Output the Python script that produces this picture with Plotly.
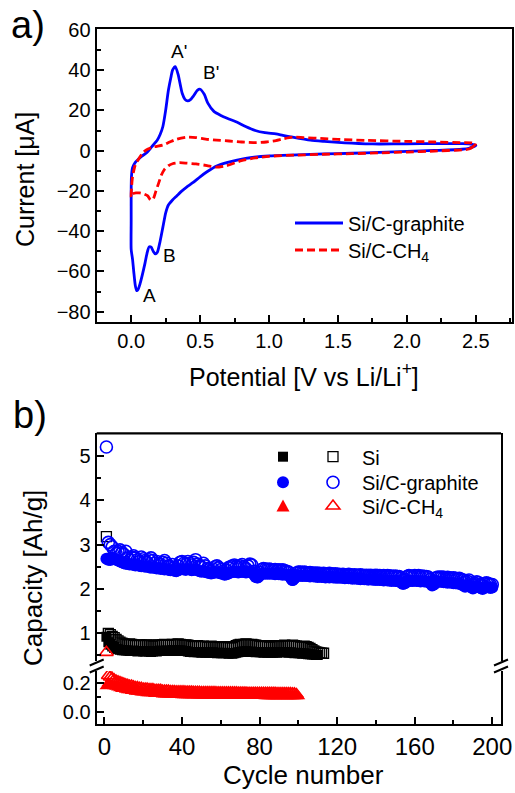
import plotly.graph_objects as go

# ---------------- data: panel a) cyclic voltammetry ----------------
cv_graphite_v = [2.50, 2.45, 2.40, 2.20, 2.00, 1.80, 1.60, 1.40, 1.20, 1.00, 0.83, 0.70, 0.62, 0.55, 0.50,
                 0.45, 0.40, 0.36, 0.33, 0.30, 0.27, 0.25, 0.23, 0.21, 0.19, 0.175, 0.16, 0.145, 0.13, 0.115,
                 0.10, 0.08, 0.065, 0.05, 0.04, 0.03, 0.02, 0.01, 0.0, 0.0, 0.0, 0.002, 0.01, 0.03, 0.05,
                 0.08, 0.11, 0.15, 0.19, 0.21, 0.23, 0.25, 0.27, 0.29, 0.30, 0.32, 0.34, 0.37, 0.39, 0.41,
                 0.43, 0.45, 0.48, 0.50, 0.53, 0.556, 0.60, 0.65, 0.70, 0.76, 0.83, 0.90, 0.97, 1.05, 1.10,
                 1.17, 1.30, 1.40, 1.50, 1.60, 1.70, 1.80, 2.00, 2.20, 2.40, 2.45, 2.48, 2.50]
cv_graphite_i = [2.6, 1.2, 0.7, 0.1, -0.4, -0.9, -1.3, -1.6, -2.1, -2.6, -3.8, -5.8, -7.6, -10.5, -13.0,
                 -15.8, -18.2, -20.5, -22.5, -24.5, -27.0, -31.0, -38.0, -45.0, -50.5, -51.3, -50.0, -48.0, -47.8, -51.0,
                 -56.0, -62.0, -66.0, -69.0, -69.6, -67.0, -61.0, -54.0, -49.0, -35.0, -20.0, -13.0, -8.5, -5.8, -4.4,
                 -2.6, -1.2, 2.0, 5.3, 8.0, 12.0, 20.0, 30.0, 37.0, 40.0, 41.8, 38.0, 28.5, 25.5, 24.7,
                 25.3, 27.0, 30.0, 30.5, 28.0, 23.6, 19.5, 17.5, 16.0, 14.4, 12.0, 10.0, 8.9, 8.3, 7.6,
                 6.7, 5.2, 4.6, 4.1, 3.7, 3.4, 3.3, 3.4, 3.5, 3.5, 3.4, 3.0, 2.6]

cv_ch4_v = [2.50, 2.48, 2.45, 2.40, 2.20, 2.00, 1.80, 1.60, 1.40, 1.20, 1.00, 0.90, 0.80, 0.69, 0.616,
            0.55, 0.47, 0.40, 0.35, 0.30, 0.27, 0.24, 0.22, 0.20, 0.18, 0.16, 0.14, 0.12, 0.09, 0.06,
            0.035, 0.01, 0.0, 0.003, 0.01, 0.03, 0.05, 0.08, 0.11, 0.16, 0.23, 0.28, 0.33, 0.40, 0.47,
            0.54, 0.62, 0.71, 0.80, 0.906, 0.98, 1.05, 1.10, 1.17, 1.25, 1.40, 1.50, 1.70, 2.00, 2.20,
            2.40, 2.47, 2.50]
cv_ch4_i = [3.5, 2.0, 0.8, 0.4, -0.2, -0.7, -1.1, -1.5, -1.8, -2.2, -2.8, -3.6, -5.0, -7.5, -8.2,
            -7.4, -6.6, -6.2, -6.0, -6.5, -7.5, -9.5, -12.0, -16.0, -20.0, -24.0, -24.5, -22.5, -21.5, -21.0,
            -21.0, -21.5, -23.0, -18.0, -13.0, -7.0, -4.6, -1.5, 0.4, 1.8, 2.8, 4.3, 5.7, 6.7, 6.5,
            5.7, 5.2, 4.8, 4.3, 4.0, 4.3, 5.0, 5.8, 6.7, 6.5, 6.0, 5.6, 5.1, 4.6, 4.3,
            4.0, 3.9, 3.5]

cv_labels = ["A'", "B'", "A", "B"]
cv_label_v = [0.348, 0.577, 0.133, 0.28]
cv_label_i = [49.2, 38.9, -72.1, -51.9]

# ---------------- data: panel b) cycling ----------------
si_open = [3.18, 1.00, 0.97, 0.93, 0.90, 0.86, 0.83, 0.80, 0.78, 0.76,
           0.75, 0.74, 0.76, 0.75, 0.73, 0.72, 0.73, 0.74, 0.73, 0.72,
           0.73, 0.74, 0.73, 0.72, 0.71, 0.72, 0.73, 0.74, 0.73, 0.74,
           0.75, 0.74, 0.73, 0.74, 0.75, 0.74, 0.75, 0.76, 0.75, 0.74,
           0.73, 0.74, 0.73, 0.72, 0.71, 0.70, 0.71, 0.72, 0.71, 0.70,
           0.71, 0.70, 0.69, 0.70, 0.71, 0.70, 0.69, 0.70, 0.69, 0.68,
           0.69, 0.70, 0.69, 0.68, 0.67, 0.68, 0.70, 0.72, 0.74, 0.75,
           0.74, 0.75, 0.76, 0.75, 0.74, 0.75, 0.74, 0.73, 0.72, 0.71,
           0.70, 0.71, 0.72, 0.70, 0.69, 0.70, 0.71, 0.72, 0.71, 0.70,
           0.71, 0.72, 0.73, 0.72, 0.71, 0.72, 0.73, 0.72, 0.71, 0.70,
           0.69, 0.70, 0.71, 0.70, 0.68, 0.66, 0.63, 0.60, 0.58, 0.57,
           0.56, 0.55, 0.55]
si_filled = [0.92, 0.80, 0.74, 0.70, 0.67, 0.65, 0.64, 0.63, 0.62, 0.62,
             0.61, 0.61, 0.60, 0.60, 0.61, 0.60, 0.59, 0.60, 0.60, 0.59,
             0.59, 0.60, 0.59, 0.58, 0.59, 0.60, 0.59, 0.60, 0.61, 0.60,
             0.60, 0.61, 0.60, 0.61, 0.62, 0.61, 0.60, 0.61, 0.62, 0.61,
             0.60, 0.60, 0.59, 0.58, 0.58, 0.57, 0.58, 0.57, 0.57, 0.56,
             0.57, 0.56, 0.57, 0.56, 0.56, 0.57, 0.56, 0.55, 0.56, 0.55,
             0.55, 0.56, 0.55, 0.54, 0.55, 0.54, 0.55, 0.56, 0.57, 0.58,
             0.59, 0.59, 0.60, 0.59, 0.58, 0.59, 0.58, 0.57, 0.58, 0.57,
             0.57, 0.56, 0.57, 0.56, 0.57, 0.56, 0.56, 0.57, 0.56, 0.57,
             0.58, 0.57, 0.58, 0.57, 0.56, 0.57, 0.56, 0.55, 0.56, 0.55,
             0.55, 0.54, 0.55, 0.54, 0.53, 0.53, 0.52, 0.52, 0.51, 0.51]

gr_open = [5.20, 3.05, 3.00, 2.95, 2.85, 2.80, 2.85, 2.88, 2.82, 2.78,
           2.85, 2.70, 2.65, 2.72, 2.75, 2.70, 2.66, 2.62, 2.72, 2.68,
           2.64, 2.60, 2.66, 2.70, 2.64, 2.58, 2.62, 2.56, 2.55, 2.60,
           2.64, 2.58, 2.52, 2.50, 2.55, 2.48, 2.44, 2.52, 2.60, 2.62,
           2.58, 2.55, 2.62, 2.58, 2.54, 2.60, 2.66, 2.56, 2.52, 2.50,
           2.58, 2.52, 2.46, 2.44, 2.40, 2.45, 2.50, 2.52, 2.48, 2.44,
           2.40, 2.35, 2.42, 2.48, 2.50, 2.52, 2.54, 2.50, 2.48, 2.52,
           2.55, 2.50, 2.46, 2.52, 2.56, 2.54, 2.40, 2.30, 2.28, 2.38,
           2.44, 2.46, 2.45, 2.44, 2.45, 2.44, 2.43, 2.44, 2.42, 2.43,
           2.42, 2.43, 2.41, 2.40, 2.38, 2.30, 2.22, 2.30, 2.36, 2.38,
           2.38, 2.37, 2.38, 2.37, 2.36, 2.37, 2.36, 2.35, 2.36, 2.35,
           2.35, 2.34, 2.35, 2.34, 2.34, 2.35, 2.34, 2.33, 2.34, 2.33,
           2.33, 2.32, 2.33, 2.32, 2.32, 2.33, 2.32, 2.31, 2.32, 2.31,
           2.31, 2.32, 2.31, 2.30, 2.31, 2.30, 2.31, 2.30, 2.30, 2.31,
           2.30, 2.30, 2.29, 2.30, 2.29, 2.30, 2.29, 2.29, 2.28, 2.29,
           2.28, 2.28, 2.24, 2.20, 2.22, 2.28, 2.30, 2.29, 2.28, 2.30,
           2.29, 2.30, 2.28, 2.29, 2.28, 2.28, 2.27, 2.22, 2.15, 2.18,
           2.25, 2.27, 2.26, 2.27, 2.26, 2.25, 2.26, 2.25, 2.24, 2.25,
           2.24, 2.23, 2.24, 2.22, 2.20, 2.16, 2.18, 2.20, 2.14, 2.10,
           2.12, 2.16, 2.14, 2.10, 2.08, 2.12, 2.14, 2.12, 2.10, 2.10]
gr_filled = [2.68, 2.66, 2.65, 2.70, 2.68, 2.66, 2.64, 2.62, 2.60, 2.58,
             2.57, 2.56, 2.55, 2.56, 2.54, 2.53, 2.54, 2.52, 2.51, 2.52,
             2.50, 2.51, 2.49, 2.48, 2.49, 2.47, 2.46, 2.47, 2.45, 2.46,
             2.44, 2.45, 2.43, 2.42, 2.43, 2.41, 2.40, 2.42, 2.44, 2.45,
             2.44, 2.43, 2.45, 2.44, 2.42, 2.43, 2.44, 2.42, 2.40, 2.39,
             2.40, 2.38, 2.37, 2.36, 2.35, 2.36, 2.37, 2.38, 2.36, 2.35,
             2.34, 2.32, 2.33, 2.35, 2.37, 2.38, 2.39, 2.38, 2.37, 2.38,
             2.39, 2.38, 2.37, 2.38, 2.39, 2.38, 2.33, 2.27, 2.26, 2.30,
             2.34, 2.35, 2.34, 2.35, 2.34, 2.35, 2.34, 2.33, 2.34, 2.33,
             2.33, 2.32, 2.33, 2.32, 2.31, 2.26, 2.20, 2.24, 2.29, 2.30,
             2.30, 2.29, 2.30, 2.29, 2.29, 2.28, 2.29, 2.28, 2.28, 2.27,
             2.28, 2.27, 2.27, 2.26, 2.27, 2.26, 2.27, 2.26, 2.26, 2.25,
             2.26, 2.25, 2.25, 2.24, 2.25, 2.24, 2.24, 2.23, 2.24, 2.23,
             2.23, 2.22, 2.23, 2.22, 2.22, 2.21, 2.22, 2.21, 2.21, 2.20,
             2.21, 2.20, 2.20, 2.19, 2.20, 2.19, 2.19, 2.18, 2.19, 2.18,
             2.18, 2.17, 2.14, 2.11, 2.13, 2.17, 2.19, 2.18, 2.18, 2.19,
             2.18, 2.18, 2.17, 2.18, 2.17, 2.17, 2.16, 2.13, 2.08, 2.10,
             2.15, 2.17, 2.16, 2.16, 2.15, 2.15, 2.14, 2.15, 2.14, 2.13,
             2.13, 2.12, 2.12, 2.10, 2.08, 2.05, 2.07, 2.09, 2.04, 2.01,
             2.03, 2.06, 2.04, 2.02, 2.00, 2.03, 2.05, 2.04, 2.02, 2.03]

ch4_filled = [0.18, 0.20, 0.19, 0.185, 0.18, 0.175, 0.17, 0.165, 0.16, 0.16,
              0.155, 0.15, 0.15, 0.145, 0.145, 0.14, 0.14, 0.14, 0.135, 0.135,
              0.135, 0.13, 0.13, 0.13, 0.13, 0.125, 0.125, 0.125, 0.125, 0.12,
              0.12, 0.12, 0.12, 0.12, 0.12, 0.118, 0.118, 0.118, 0.118, 0.116,
              0.116, 0.116, 0.116, 0.115, 0.115, 0.115, 0.115, 0.114, 0.114, 0.114,
              0.114, 0.114, 0.113, 0.113, 0.113, 0.113, 0.113, 0.112, 0.112, 0.112,
              0.112, 0.112, 0.112, 0.111, 0.111, 0.111, 0.111, 0.111, 0.111, 0.111,
              0.11, 0.11, 0.11, 0.11, 0.11, 0.11, 0.11, 0.11, 0.11, 0.11,
              0.11, 0.11, 0.109, 0.109, 0.109, 0.109, 0.109, 0.109, 0.109, 0.109,
              0.108, 0.108, 0.108, 0.108, 0.108, 0.108, 0.108, 0.108, 0.108, 0.108]
ch4_open_first = 0.57  # cycle 1, drawn on the upper axis segment
ch4_open = [0.255, 0.245, 0.235, 0.225, 0.215, 0.21, 0.205, 0.20, 0.195,
            0.19, 0.185, 0.18, 0.18, 0.175, 0.17, 0.17, 0.165, 0.165, 0.16,
            0.16, 0.16, 0.155, 0.155, 0.155, 0.15, 0.15, 0.15, 0.15, 0.145,
            0.145, 0.145, 0.145, 0.142, 0.142, 0.142, 0.14, 0.14, 0.14, 0.14,
            0.14, 0.138, 0.138, 0.138, 0.138, 0.136, 0.136, 0.136, 0.136, 0.135,
            0.135, 0.135, 0.135, 0.134, 0.134, 0.134, 0.134, 0.133, 0.133, 0.133,
            0.133, 0.133, 0.132, 0.132, 0.132, 0.132, 0.132, 0.132, 0.131, 0.131,
            0.131, 0.131, 0.131, 0.13, 0.13, 0.13, 0.13, 0.13, 0.13, 0.13,
            0.13, 0.13, 0.13, 0.129, 0.129, 0.129, 0.129, 0.129, 0.128, 0.128,
            0.128, 0.128, 0.128, 0.127, 0.127, 0.127, 0.126, 0.125, 0.12]

# ---------------- layout helpers ----------------
W, H = 515, 793
def fx(p):
    return p / W
def fy(p):
    return 1 - p / H

FONT = "Liberation Sans, Arial, sans-serif"
BLUE = "#0000FF"
RED = "#FF0000"

fig = go.Figure()

# panel a
fig.add_trace(go.Scatter(x=cv_graphite_v, y=cv_graphite_i, mode="lines", name="Si/C-graphite",
                         line=dict(color=BLUE, width=2.8, shape="spline", smoothing=0.6),
                         xaxis="x", yaxis="y", legend="legend"))
fig.add_trace(go.Scatter(x=cv_ch4_v, y=cv_ch4_i, mode="lines", name="Si/C-CH<sub>4</sub>",
                         line=dict(color=RED, width=2.8, dash="8px,4px", shape="spline", smoothing=0.6),
                         xaxis="x", yaxis="y", legend="legend2"))

# panel b
cyc_si_f = list(range(1, len(si_filled) + 1))
cyc_si_o = list(range(1, len(si_open) + 1))
cyc_gr = list(range(1, len(gr_open) + 1))
cyc_ch4_f = list(range(1, len(ch4_filled) + 1))
cyc_ch4_o = list(range(2, len(ch4_open) + 2))

MS = 11
fig.add_trace(go.Scatter(x=cyc_si_f, y=si_filled, mode="markers", name="Si (filled)", showlegend=False,
                         marker=dict(symbol="square", size=MS - 1, color="black"),
                         xaxis="x2", yaxis="y3"))
fig.add_trace(go.Scatter(x=cyc_si_o, y=si_open, mode="markers", name="Si",
                         marker=dict(symbol="square-open", size=MS - 1, color="black", line=dict(width=1.3)),
                         xaxis="x2", yaxis="y3", legend="legend3"))
fig.add_trace(go.Scatter(x=cyc_gr, y=gr_filled, mode="markers", name="Si/C-graphite (filled)", showlegend=False,
                         marker=dict(symbol="circle", size=MS + 1, color=BLUE),
                         xaxis="x2", yaxis="y3"))
fig.add_trace(go.Scatter(x=cyc_gr, y=gr_open, mode="markers", name="Si/C-graphite",
                         marker=dict(symbol="circle-open", size=MS + 1, color=BLUE, line=dict(width=1.6)),
                         xaxis="x2", yaxis="y3", legend="legend4"))
fig.add_trace(go.Scatter(x=cyc_ch4_f, y=ch4_filled, mode="markers", name="Si/C-CH4 (filled)", showlegend=False,
                         marker=dict(symbol="triangle-up", size=MS + 1, color=RED),
                         xaxis="x2", yaxis="y2"))
fig.add_trace(go.Scatter(x=cyc_ch4_o, y=ch4_open, mode="markers", name="Si/C-CH<sub>4</sub>",
                         marker=dict(symbol="triangle-up-open", size=MS + 1, color=RED, line=dict(width=1.6)),
                         xaxis="x2", yaxis="y2", legend="legend5"))
fig.add_trace(go.Scatter(x=[1], y=[ch4_open_first], mode="markers", showlegend=False,
                         marker=dict(symbol="triangle-up-open", size=MS + 1, color=RED, line=dict(width=1.6)),
                         xaxis="x2", yaxis="y3"))

tickfont = dict(family=FONT, size=20, color="black")
def minor(dt):
    return dict(ticks="inside", ticklen=4, tickwidth=2, tickcolor="black", dtick=dt, tick0=0, showgrid=False)
def axis(**kw):
    base = dict(showline=True, linewidth=2.2, linecolor="black", mirror=True,
                ticks="inside", ticklen=7, tickwidth=2, tickcolor="black",
                showgrid=False, zeroline=False, tickfont=tickfont, automargin=False)
    base.update(kw)
    return base

# domains (pixel-based)
A_L, A_R, A_T, A_B = 96.7, 511.7, 29.3, 321.7
B_L, B_R, B_T, B_B = 96.7, 501.0, 433.3, 724.3
BRK_UP, BRK_LO = 661.0, 671.0
LEG_ROWS_B = [456.7, 482.3, 506.0]
LEG_FILLED_X = 283.0

def leg(xp, yp, iw=30):
    return dict(x=fx(xp), y=fy(yp), xanchor="left", yanchor="middle", itemwidth=iw,
                bgcolor="rgba(0,0,0,0)", borderwidth=0,
                font=dict(family=FONT, size=20, color="black"))

fig.update_layout(
    width=W, height=H, autosize=False,
    margin=dict(l=0, r=0, t=0, b=0, pad=0),
    paper_bgcolor="white", plot_bgcolor="white",
    font=dict(family=FONT, color="black"),
    xaxis=axis(domain=[fx(A_L), fx(A_R)], anchor="y", range=[-0.25, 2.76],
               tick0=0, dtick=0.5, tickformat=".1f", minor=minor(0.25)),
    yaxis=axis(domain=[fy(A_B), fy(A_T)], anchor="x", range=[-85, 60.3],
               tick0=0, dtick=20, minor=minor(10)),
    xaxis2=axis(domain=[fx(B_L), fx(B_R)], anchor="y2", range=[-4, 204.5], mirror=False,
                tick0=0, dtick=40, tickfont=dict(family=FONT, size=24, color="black"), minor=minor(20)),
    yaxis2=axis(domain=[fy(B_B), fy(BRK_LO)], anchor="x2", range=[-0.09, 0.287],
                tick0=0, dtick=0.2, tickformat=".1f", minor=minor(0.1)),
    yaxis3=axis(domain=[fy(BRK_UP), fy(B_T)], anchor="x2", range=[0.375, 5.51],
                tick0=0, dtick=1, minor=minor(0.5)),
    legend=leg(290, 223, 48),
    legend2=leg(290, 250, 48),
    legend3=leg(304, LEG_ROWS_B[0], 48),
    legend4=leg(304, LEG_ROWS_B[1], 48),
    legend5=leg(304, LEG_ROWS_B[2], 48),
)

annotations = []
for t, xv, yv in zip(cv_labels, cv_label_v, cv_label_i):
    annotations.append(dict(text=t, x=xv, y=yv, xref="x", yref="y", showarrow=False,
                            xanchor="center", yanchor="middle",
                            font=dict(family=FONT, size=19, color="black")))
annotations += [
    dict(text="a)", x=fx(9), y=fy(25), xref="paper", yref="paper", xanchor="left", yanchor="middle",
         showarrow=False, font=dict(family=FONT, size=38, color="black")),
    dict(text="b)", x=fx(11), y=fy(415), xref="paper", yref="paper", xanchor="left", yanchor="middle",
         showarrow=False, font=dict(family=FONT, size=38, color="black")),
    dict(text="Current [μA]", x=fx(25), y=fy(180), xref="paper", yref="paper", textangle=-90,
         xanchor="center", yanchor="middle",
         showarrow=False, font=dict(family=FONT, size=25, color="black")),
    dict(text="Potential [V vs Li/Li<sup>+</sup>]", x=fx(304), y=fy(375), xref="paper", yref="paper",
         xanchor="center", yanchor="middle",
         showarrow=False, font=dict(family=FONT, size=25, color="black")),
    dict(text="Capacity [Ah/g]", x=fx(33), y=fy(578), xref="paper", yref="paper", textangle=-90,
         xanchor="center", yanchor="middle",
         showarrow=False, font=dict(family=FONT, size=26, color="black")),
    dict(text="Cycle number", x=fx(303), y=fy(775), xref="paper", yref="paper",
         xanchor="center", yanchor="middle",
         showarrow=False, font=dict(family=FONT, size=26, color="black")),
]
fig.update_layout(annotations=annotations)

shapes = [
    # top frame line of panel b
    dict(type="line", xref="paper", yref="paper", x0=fx(B_L), x1=fx(B_R), y0=fy(B_T), y1=fy(B_T),
         line=dict(color="black", width=2.2)),
]
# axis-break marks
for xc in (B_L, B_R):
    for dy in (-3.5, 3.5):
        yc = (BRK_UP + BRK_LO) / 2 + dy
        shapes.append(dict(type="line", xref="paper", yref="paper",
                           x0=fx(xc - 7), x1=fx(xc + 7), y0=fy(yc + 3), y1=fy(yc - 3),
                           line=dict(color="black", width=2)))
# legend key symbols for the filled-marker (charge) series
cx = LEG_FILLED_X
r0, r1, r2 = LEG_ROWS_B
shapes.append(dict(type="rect", xref="paper", yref="paper",
                   x0=fx(cx - 5), x1=fx(cx + 5), y0=fy(r0 + 5), y1=fy(r0 - 5),
                   fillcolor="black", line=dict(width=0)))
shapes.append(dict(type="circle", xref="paper", yref="paper",
                   x0=fx(cx - 6), x1=fx(cx + 6), y0=fy(r1 + 6), y1=fy(r1 - 6),
                   fillcolor=BLUE, line=dict(width=0)))
shapes.append(dict(type="path", xref="paper", yref="paper",
                   path="M %f,%f L %f,%f L %f,%f Z" % (fx(cx), fy(r2 - 6.5), fx(cx - 6.5), fy(r2 + 5.5),
                                                      fx(cx + 6.5), fy(r2 + 5.5)),
                   fillcolor=RED, line=dict(width=0)))
fig.update_layout(shapes=shapes)

fig.write_html("out.html", post_script="document.body.style.margin='0';")
